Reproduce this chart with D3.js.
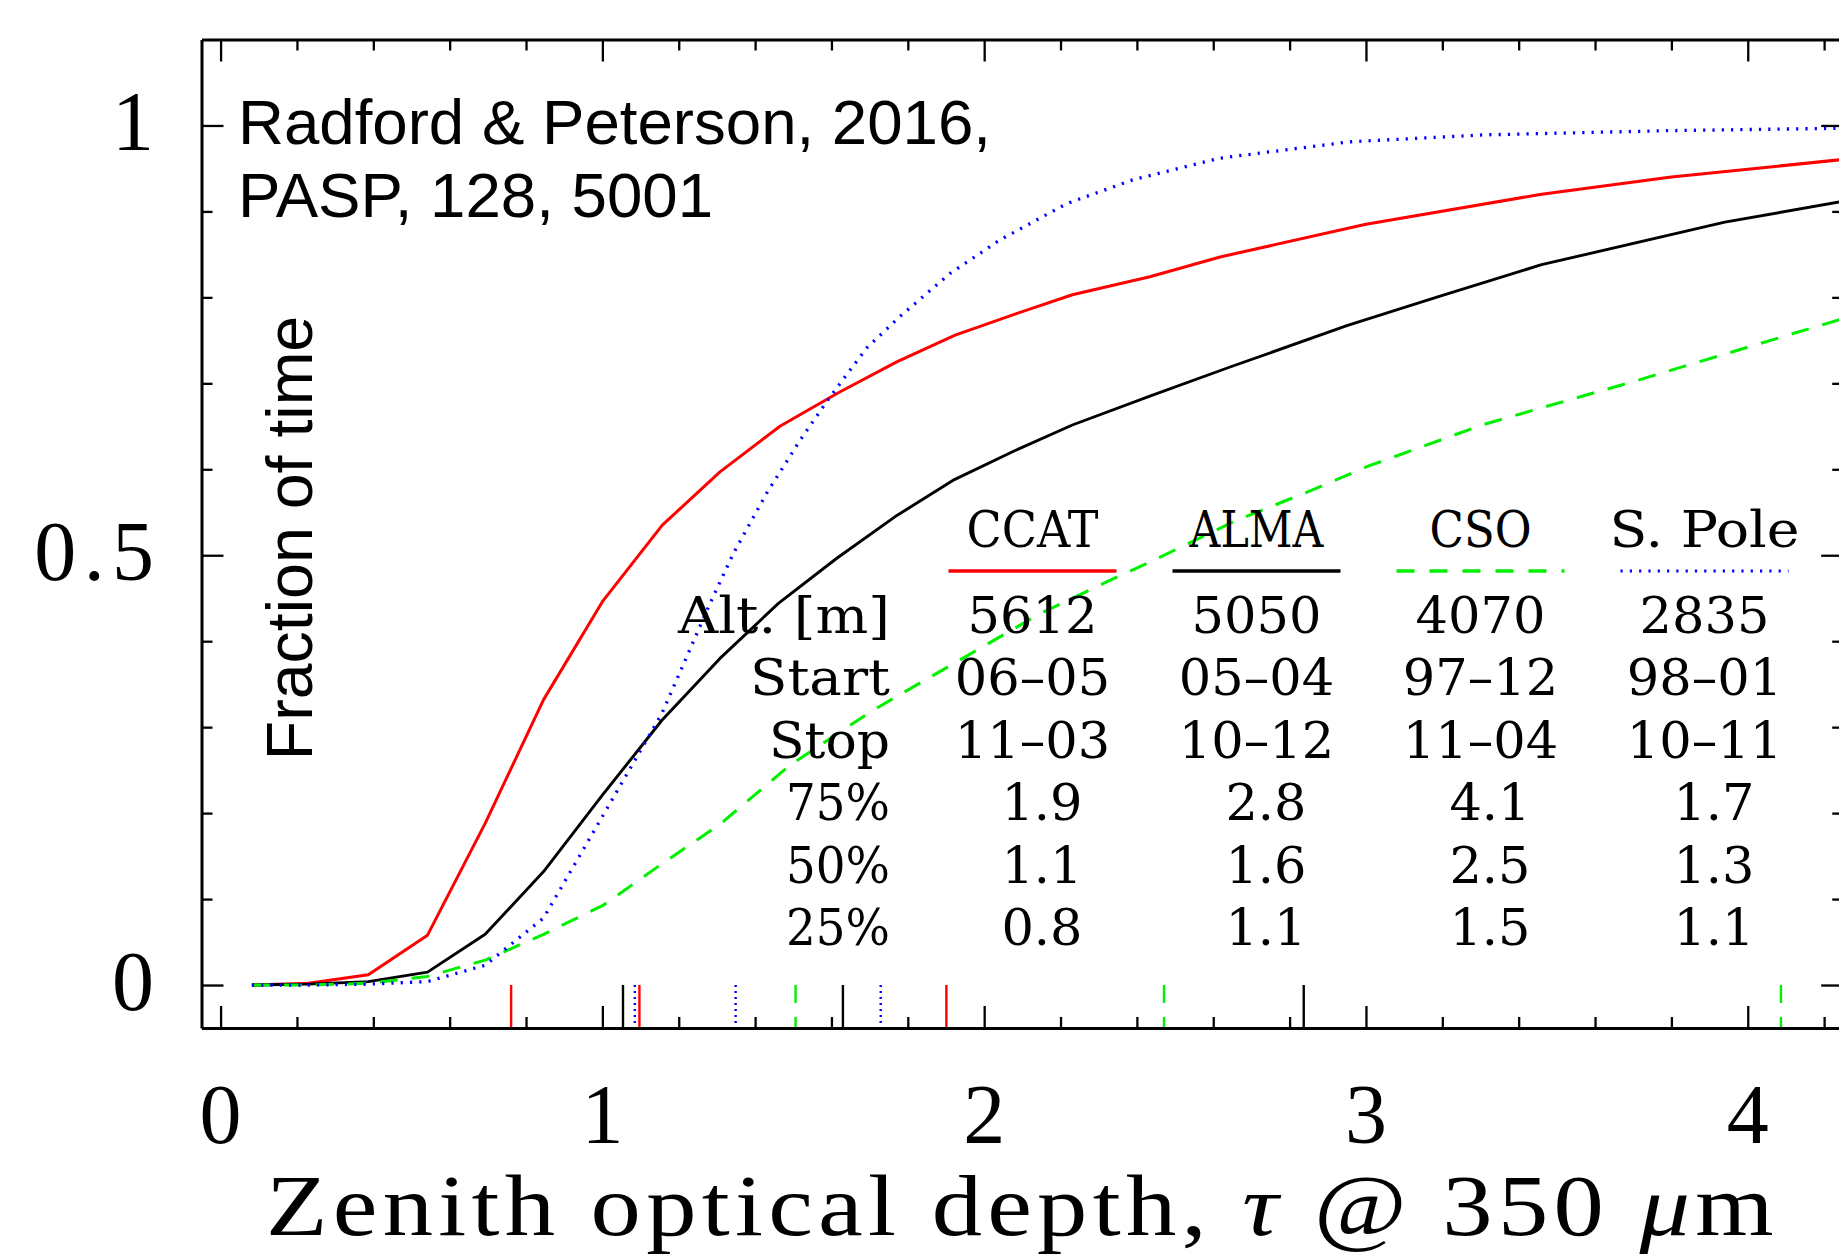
<!DOCTYPE html>
<html><head><meta charset="utf-8">
<script src="https://cdn.jsdelivr.net/npm/d3@7"></script>
<style>html,body{margin:0;padding:0;background:#fff}</style>
</head><body>
<svg id="chart" width="1839" height="1258"></svg>
<script>
// ---------------- data ----------------
const sites = ["CCAT", "ALMA", "CSO", "S. Pole"];
const altitudes = ["5612", "5050", "4070", "2835"];
const startDates = ["06\u201305", "05\u201304", "97\u201312", "98\u201301"];
const stopDates = ["11\u201303", "10\u201312", "11\u201304", "10\u201311"];
const q75Text = ["1.9", "2.8", "4.1", "1.7"];
const q50Text = ["1.1", "1.6", "2.5", "1.3"];
const q25Text = ["0.8", "1.1", "1.5", "1.1"];
const rowLabels = ["Alt. [m]", "Start", "Stop", "75%", "50%", "25%"];

// cumulative fraction of time vs zenith optical depth at 350 um
const ccatTau  = [0.082,0.230,0.387,0.542,0.693,0.846,1.000,1.157,1.308,1.465,1.618,1.771,1.924,2.077,2.231,2.434,2.618,3.000,3.460,3.800,4.240];
const ccatFrac = [0.000,0.002,0.012,0.058,0.188,0.332,0.446,0.535,0.597,0.650,0.689,0.725,0.756,0.780,0.803,0.824,0.847,0.885,0.920,0.940,0.960];

const almaTau  = [0.082,0.230,0.387,0.542,0.693,0.846,1.000,1.156,1.308,1.461,1.614,1.767,1.922,2.077,2.231,2.434,2.644,2.950,3.190,3.460,3.940,4.240];
const almaFrac = [0.000,0.001,0.004,0.015,0.059,0.132,0.221,0.308,0.380,0.444,0.4965,0.545,0.588,0.621,0.6515,0.685,0.719,0.767,0.801,0.838,0.8875,0.911];

const csoTau   = [0.082,0.230,0.387,0.542,0.693,0.846,1.003,1.156,1.308,1.492,1.710,1.928,2.146,2.321,2.443,2.653,2.871,3.002,3.307,3.700,4.240];
const csoFrac  = [0.000,0.000,0.002,0.010,0.029,0.059,0.093,0.141,0.187,0.256,0.320,0.376,0.432,0.469,0.494,0.539,0.578,0.603,0.652,0.702,0.774];

const poleTau  = [0.082,0.230,0.387,0.542,0.693,0.846,1.000,1.156,1.282,1.343,1.430,1.518,1.596,1.692,1.780,1.911,2.042,2.216,2.391,2.618,2.958,3.307,3.796,4.240];
const poleFrac = [0.000,0.000,0.001,0.004,0.023,0.078,0.196,0.316,0.444,0.502,0.572,0.634,0.684,0.741,0.778,0.828,0.867,0.909,0.937,0.962,0.981,0.989,0.994,0.9967];

// quartile markers (tau) for CCAT, ALMA, CSO, S. Pole
const p25 = [0.761, 1.054, 1.506, 1.085];
const p50 = [1.097, 1.630, 2.471, 1.349];
const p75 = [1.901, 2.837, 4.087, 1.729];

const xTickLabels = ["0", "1", "2", "3", "4"];
const xTickValues = [0, 1, 2, 3, 4];
const yTickLabels = ["0", "0.5", "1"];
const yTickValues = [0, 0.5, 1];

// ---------------- layout ----------------
const W = 1839, H = 1258;
const svg = d3.select("#chart");
svg.append("rect").attr("width", W).attr("height", H).attr("fill", "#fff");

const x = d3.scaleLinear().domain([-0.05, 4.25]).range([201.5, 1843.2]);
const y = d3.scaleLinear().domain([-0.05, 1.1]).range([1028, 39.5]);
const [X0, X1] = x.range();
const [Y0, Y1] = y.range();

svg.append("defs").append("clipPath").attr("id", "clip")
  .append("rect").attr("x", X0).attr("y", Y1).attr("width", X1 - X0).attr("height", Y0 - Y1);

const styles = [
  {color: "#ff0000", dash: null,      w: 3.0, lw: 3.3, mdash: null,    ldash: null},
  {color: "#000000", dash: null,      w: 2.9, lw: 3.3, mdash: null,    ldash: null},
  {color: "#00f000", dash: "18,14",   w: 3.0, lw: 3.3, mdash: "18,14", ldash: "18,15"},
  {color: "#0000ff", dash: "2.2,7.1", w: 3.3, lw: 3.2, mdash: "2,4",   ldash: "2.2,7.1"}
];
const seriesTau = [ccatTau, almaTau, csoTau, poleTau];
const seriesFrac = [ccatFrac, almaFrac, csoFrac, poleFrac];

const plot = svg.append("g").attr("clip-path", "url(#clip)");
const line = d3.line().x(d => x(d[0])).y(d => y(d[1]));
seriesTau.forEach((tau, i) => {
  const st = styles[i];
  plot.append("path")
    .datum(d3.zip(tau, seriesFrac[i]))
    .attr("d", line)
    .attr("fill", "none")
    .attr("stroke", st.color)
    .attr("stroke-width", st.w)
    .attr("stroke-linejoin", "round")
    .attr("stroke-dasharray", st.dash);
});

// quartile markers below y = 0
seriesTau.forEach((tau, i) => {
  const st = styles[i];
  [p25[i], p50[i], p75[i]].forEach(q => {
    plot.append("line")
      .attr("x1", x(q)).attr("x2", x(q))
      .attr("y1", y(0)).attr("y2", y(-0.05))
      .attr("stroke", st.color)
      .attr("stroke-width", 2.4)
      .attr("stroke-dasharray", st.mdash);
  });
});

// ---------------- axes ----------------
const xMinor = d3.range(0, 4.21, 0.2).filter(v => Math.abs(v - Math.round(v)) > 1e-6);
const yMinor = d3.range(0, 1.01, 0.1).filter(v => Math.abs(v * 2 - Math.round(v * 2)) > 1e-6);

function styleAxis(g, keepDomain) {
  g.selectAll("text").remove();
  g.selectAll(".tick line").attr("stroke", "#000").attr("stroke-width", 2.3);
  if (keepDomain) g.select(".domain").attr("stroke", "#000").attr("stroke-width", 3);
  else g.select(".domain").remove();
}
function addAxis(gen, transform, major, minor) {
  const a = svg.append("g").attr("transform", transform)
    .call(gen.tickValues(major).tickSize(-22).tickSizeOuter(0));
  styleAxis(a, true);
  const b = svg.append("g").attr("transform", transform)
    .call(gen.tickValues(minor).tickSize(-11).tickSizeOuter(0));
  styleAxis(b, false);
}
addAxis(d3.axisBottom(x), `translate(0,${Y0})`, xTickValues, xMinor);
addAxis(d3.axisTop(x), `translate(0,${Y1})`, xTickValues, xMinor);
addAxis(d3.axisLeft(y), `translate(${X0},0)`, yTickValues, yMinor);
addAxis(d3.axisRight(y), `translate(${X1},0)`, yTickValues, yMinor);

// tick labels
const serif = "'Liberation Serif', 'Times New Roman', serif";
svg.append("g").selectAll("text").data(xTickValues).join("text")
  .attr("x", d => x(d)).attr("y", 1143)
  .attr("text-anchor", "middle")
  .attr("font-family", serif).attr("font-size", 84)
  .text((d, i) => xTickLabels[i]);
svg.append("g").selectAll("text").data(yTickValues).join("text")
  .attr("x", 154).attr("y", d => y(d) + 24.5)
  .attr("text-anchor", "end")
  .attr("font-family", serif).attr("font-size", 84)
  .text((d, i) => yTickLabels[i])
  .each(function () {
    if (this.textContent.length > 1) {
      const n = this.getComputedTextLength();
      d3.select(this).attr("textLength", n * 1.14).attr("lengthAdjust", "spacing");
    }
  });

// x axis title: moderate letter spacing, then horizontal stretch to the target width
const xtG = svg.append("g");
const xt = xtG.append("text")
  .attr("x", 0).attr("y", 0)
  .attr("font-family", serif).attr("font-size", 86)
  .attr("letter-spacing", 4.5);
xt.append("tspan").text("Zenith optical depth, ");
xt.append("tspan").attr("font-style", "italic").text("\u03C4");
xt.append("tspan").text(" @ 350 ");
xt.append("tspan").attr("font-style", "italic").text("\u03BC");
xt.append("tspan").text("m");
{
  const bb = xt.node().getBBox();
  const targetW = 1513;
  const sx = targetW / bb.width;
  xtG.attr("transform", `translate(${266 - bb.x * sx},1235) scale(${sx},1)`);
}

const sans = "'Liberation Sans', Arial, Helvetica, sans-serif";
svg.append("text")
  .attr("transform", "translate(312,538) rotate(-90)")
  .attr("text-anchor", "middle")
  .attr("font-family", sans).attr("font-size", 64.5)
  .text("Fraction of time");

svg.append("text").attr("x", 238).attr("y", 144)
  .attr("font-family", sans).attr("font-size", 63.6)
  .text("Radford & Peterson, 2016,");
svg.append("text").attr("x", 238).attr("y", 216.7)
  .attr("font-family", sans).attr("font-size", 63.6)
  .text("PASP, 128, 5001");

// ---------------- legend table ----------------
const tfont = "'DejaVu Serif', serif";
const tsize = 51;
const colX = i => 1032.5 + 224 * i;
const rowY = r => 633 + 62.4 * r;
const headerWidths = [132, 134, 102, 190];
const rowLabelWidths = [212, 140, 121, 104, 104, 104];
const tbl = svg.append("g").attr("font-family", tfont).attr("font-size", tsize).attr("fill", "#000");

tbl.selectAll("text.hdr").data(sites).join("text").attr("class", "hdr")
  .attr("x", (d, i) => colX(i)).attr("y", 547).attr("text-anchor", "middle")
  .attr("textLength", (d, i) => headerWidths[i]).attr("lengthAdjust", "spacingAndGlyphs")
  .text(d => d);

sites.forEach((s, i) => {
  const st = styles[i];
  tbl.append("line")
    .attr("x1", colX(i) - 84).attr("x2", colX(i) + 84)
    .attr("y1", 571).attr("y2", 571)
    .attr("stroke", st.color).attr("stroke-width", st.lw)
    .attr("stroke-dasharray", st.ldash);
});

tbl.selectAll("text.row").data(rowLabels).join("text").attr("class", "row")
  .attr("x", 890).attr("y", (d, r) => rowY(r)).attr("text-anchor", "end")
  .attr("textLength", (d, r) => rowLabelWidths[r]).attr("lengthAdjust", "spacingAndGlyphs")
  .text(d => d);

[altitudes, startDates, stopDates].forEach((arr, r) => {
  tbl.append("g").selectAll("text").data(arr).join("text")
    .attr("x", (d, i) => colX(i)).attr("y", rowY(r)).attr("text-anchor", "middle").text(d => d);
});
[q75Text, q50Text, q25Text].forEach((arr, k) => {
  tbl.append("g").selectAll("text").data(arr).join("text")
    .attr("x", (d, i) => colX(i) + 50).attr("y", rowY(3 + k)).attr("text-anchor", "end").text(d => d);
});
</script>
</body></html>
